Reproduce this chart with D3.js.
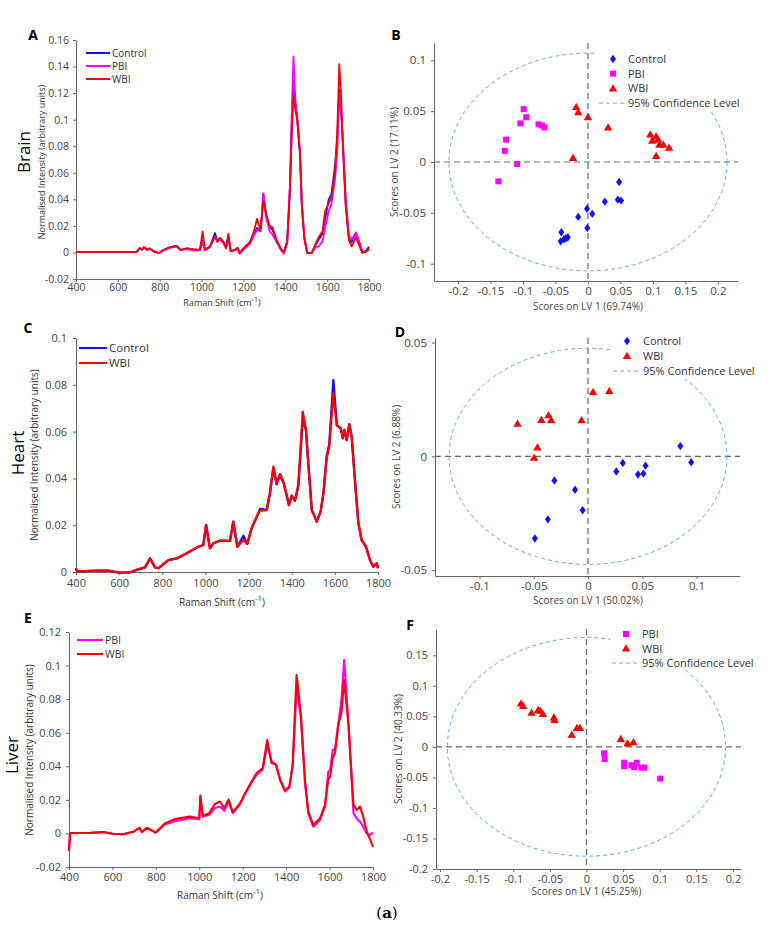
<!DOCTYPE html>
<html>
<head>
<meta charset="utf-8">
<script src="https://cdn.jsdelivr.net/npm/d3@7"></script>
<style>
  body { margin: 0; background: #fff; }
  svg { display: block; }
  text { font-family: "Open Sans", "Noto Sans", sans-serif; }
</style>
</head>
<body>
<div id="fig"></div>
<script>
// ---------- spectra (Raman shift grid + normalised intensity per group) ----------
const ramanTicks = [400, 600, 800, 1000, 1200, 1400, 1600, 1800];

const brainShift = [
  400, 500, 600, 690, 705, 715, 725, 740, 752, 770,
  797, 820, 850, 880, 900, 930, 960, 992, 1005, 1016,
  1040, 1064, 1075, 1088, 1104, 1117, 1128, 1139, 1160, 1172,
  1182, 1206, 1231, 1250, 1265, 1281, 1287, 1295, 1309, 1325,
  1339, 1358, 1382, 1393, 1409, 1422, 1430, 1439, 1448, 1457,
  1470, 1479, 1491, 1505, 1526, 1546, 1559, 1578, 1590, 1607,
  1620, 1638, 1648, 1658, 1666, 1674, 1689, 1704, 1717, 1738,
  1754, 1768, 1784, 1800];
const brainControl = [
  0.0003, 0.0005, 0.0005, 0.0005, 0.003, 0.002, 0.0035, 0.002, 0.003, 0.001,
  -0.0005, 0.002, 0.004, 0.005, 0.002, 0.003, 0.002, 0.002, 0.009, 0.002,
  0.0045, 0.0146, 0.0085, 0.0108, 0.008, 0.0035, 0.0125, 0.001, 0.002, 0.0033,
  -0.0005, 0.0038, 0.007, 0.0135, 0.0184, 0.016, 0.024, 0.044, 0.028, 0.019,
  0.017, 0.009, 0.002, -0.0003, 0.008, 0.045, 0.09, 0.1288, 0.112, 0.1,
  0.075, 0.036, 0.011, -0.0005, -0.0005, 0.006, 0.0095, 0.014, 0.0246, 0.0397,
  0.0435, 0.066, 0.085, 0.1225, 0.11, 0.0861, 0.036, 0.0108, 0.0078, 0.0146,
  0.007, 0.0008, 0.0008, 0.0042];
const brainPBI = [
  0.0003, 0.0005, 0.0005, 0.0005, 0.0035, 0.002, 0.004, 0.002, 0.003, 0.001,
  -0.0005, 0.002, 0.0035, 0.0045, 0.0015, 0.0025, 0.0015, 0.0015, 0.008, 0.0015,
  0.004, 0.012, 0.008, 0.01, 0.007, 0.003, 0.012, 0.001, 0.0015, 0.003,
  -0.001, 0.003, 0.0065, 0.013, 0.017, 0.016, 0.026, 0.0447, 0.026, 0.016,
  0.0133, 0.008, 0.001, -0.001, 0.007, 0.05, 0.1, 0.1477, 0.115, 0.103,
  0.077, 0.038, 0.012, 0.0, -0.0005, 0.004, 0.0045, 0.0083, 0.0184, 0.031,
  0.036, 0.056, 0.075, 0.12, 0.108, 0.088, 0.04, 0.013, 0.0095, 0.0151,
  0.008, 0.0, 0.0005, 0.002];
const brainWBI = [
  0.0003, 0.0005, 0.0005, 0.0005, 0.003, 0.0025, 0.004, 0.002, 0.003, 0.001,
  -0.0005, 0.002, 0.004, 0.005, 0.002, 0.003, 0.0025, 0.002, 0.0159, 0.002,
  0.0045, 0.0121, 0.0083, 0.011, 0.008, 0.0035, 0.0139, 0.001, 0.002, 0.0035,
  -0.0005, 0.004, 0.008, 0.0159, 0.0252, 0.0171, 0.026, 0.0392, 0.028, 0.02,
  0.019, 0.0095, 0.002, 0.0, 0.0083, 0.0485, 0.085, 0.1188, 0.108, 0.1,
  0.074, 0.035, 0.01, -0.0005, -0.0005, 0.007, 0.0114, 0.0159, 0.031, 0.037,
  0.041, 0.061, 0.09, 0.1418, 0.12, 0.084, 0.034, 0.009, 0.0046, 0.0114,
  0.005, -0.0003, 0.0005, 0.003];

const heartShift = [
  400, 405, 500, 550, 600, 650, 681, 720, 743, 766,
  782, 828, 867, 913, 967, 990, 1003, 1021, 1037, 1068,
  1114, 1129, 1148, 1176, 1194, 1214, 1238, 1253, 1284, 1299,
  1315, 1330, 1346, 1364, 1387, 1400, 1415, 1431, 1451, 1466,
  1477, 1493, 1503, 1516, 1534, 1547, 1562, 1574, 1593, 1609,
  1627, 1637, 1644, 1655, 1667, 1678, 1693, 1709, 1724, 1744,
  1763, 1778, 1794, 1800];
const heartControl = [
  0.0016, 0.0003, 0.0006, 0.0006, -0.0003, -0.0002, 0.0009, 0.002, 0.0058, 0.002,
  0.0016, 0.0051, 0.0058, 0.008, 0.0108, 0.0115, 0.0201, 0.0101, 0.0123, 0.0134,
  0.0133, 0.0215, 0.0108, 0.0155, 0.012, 0.0187, 0.0236, 0.027, 0.0265, 0.0336,
  0.0445, 0.0375, 0.0415, 0.0375, 0.0286, 0.0326, 0.0305, 0.0372, 0.065, 0.0607,
  0.0464, 0.0265, 0.0244, 0.0215, 0.0258, 0.0336, 0.0496, 0.0545, 0.082, 0.0628,
  0.0614, 0.0571, 0.0607, 0.0564, 0.0632, 0.0578, 0.0393, 0.0208, 0.0137, 0.011,
  0.005, 0.0023, 0.0037, 0.0016];
const heartWBI = [
  0.0016, 0.0003, 0.0006, 0.0006, -0.0003, -0.0002, 0.0009, 0.002, 0.0058, 0.002,
  0.0016, 0.0051, 0.0058, 0.008, 0.0108, 0.0115, 0.0201, 0.0101, 0.0123, 0.0134,
  0.0133, 0.0215, 0.0108, 0.0137, 0.012, 0.0187, 0.0236, 0.0262, 0.0265, 0.0336,
  0.045, 0.0379, 0.0419, 0.0379, 0.0286, 0.0326, 0.0305, 0.0372, 0.0685, 0.0607,
  0.0464, 0.0265, 0.0244, 0.0215, 0.0258, 0.0336, 0.0486, 0.0536, 0.0764, 0.0628,
  0.0614, 0.0571, 0.0607, 0.0564, 0.0632, 0.0578, 0.0393, 0.0208, 0.0137, 0.0108,
  0.0051, 0.0023, 0.0037, 0.0016];

const liverShift = [
  400, 405, 500, 558, 600, 650, 700, 724, 736, 758,
  800, 842, 888, 957, 1000, 1005, 1016, 1026, 1045, 1072,
  1095, 1115, 1135, 1154, 1170, 1188, 1211, 1237, 1264, 1292,
  1313, 1333, 1353, 1372, 1395, 1415, 1430, 1448, 1468, 1487,
  1502, 1525, 1556, 1579, 1594, 1603, 1614, 1625, 1640, 1655,
  1667, 1687, 1710, 1725, 1740, 1755, 1771, 1785, 1800];
const liverPBI = [
  -0.0095, 0.0003, 0.0004, 0.0008, -0.0002, -0.0005, 0.0012, 0.0032, 0.0008, 0.0032,
  0.0005, 0.0055, 0.0072, 0.009, 0.0085, 0.0215, 0.0098, 0.0105, 0.011, 0.0152,
  0.016, 0.0135, 0.019, 0.0122, 0.0145, 0.0175, 0.0235, 0.0295, 0.035, 0.038,
  0.053, 0.043, 0.041, 0.032, 0.025, 0.0275, 0.04, 0.0865, 0.069, 0.03,
  0.012, 0.004, 0.008, 0.016, 0.0368, 0.038, 0.0497, 0.05, 0.065, 0.08,
  0.1033, 0.066, 0.012, 0.009, 0.007, 0.004, 0.0, -0.001, 0.0005];
const liverWBI = [
  -0.0105, 0.0003, 0.0004, 0.0008, -0.0002, -0.0005, 0.0012, 0.0034, 0.0008, 0.0034,
  0.0005, 0.006, 0.0086, 0.01, 0.009, 0.0225, 0.0105, 0.011, 0.012, 0.0175,
  0.019, 0.015, 0.0203, 0.0126, 0.015, 0.018, 0.024, 0.03, 0.036, 0.039,
  0.0556, 0.042, 0.041, 0.032, 0.0255, 0.028, 0.041, 0.0944, 0.0705, 0.031,
  0.013, 0.005, 0.009, 0.017, 0.032, 0.034, 0.0447, 0.048, 0.0646, 0.072,
  0.0914, 0.0646, 0.017, 0.014, 0.016, 0.01, 0.001, -0.003, -0.008];

// ---------- PLS-DA scores [LV1, LV2] ----------
const brainScoresControl = [[0.048, -0.0196], [0.026, -0.039], [0.046, -0.037], [0.051, -0.038],
  [-0.0015, -0.046], [0.0066, -0.051], [-0.015, -0.054], [-0.001, -0.065], [-0.041, -0.069],
  [-0.042, -0.078], [-0.037, -0.076], [-0.034, -0.075], [-0.031, -0.074]];
const brainScoresPBI = [[-0.099, 0.052], [-0.095, 0.044], [-0.104, 0.038], [-0.076, 0.037],
  [-0.071, 0.036], [-0.067, 0.034], [-0.126, 0.022], [-0.128, 0.011], [-0.109, -0.002], [-0.138, -0.019]];
const brainScoresWBI = [[-0.018, 0.054], [-0.015, 0.049], [0, 0.044], [0.031, 0.034], [-0.023, 0.004],
  [0.096, 0.027], [0.105, 0.025], [0.099, 0.021], [0.108, 0.022], [0.110, 0.017], [0.116, 0.017],
  [0.125, 0.014], [0.105, 0.006]];

const heartScoresControl = [[0.085, 0.0045], [0.095, -0.0026], [0.032, -0.0029], [0.026, -0.0067],
  [0.053, -0.0041], [0.046, -0.008], [0.051, -0.0076], [-0.031, -0.0106], [-0.012, -0.0147],
  [-0.005, -0.0237], [-0.037, -0.0277], [-0.049, -0.0361]];
const heartScoresWBI = [[0.0046, 0.0283], [0.0196, 0.0287], [-0.065, 0.0143], [-0.043, 0.016],
  [-0.0365, 0.018], [-0.034, 0.0159], [-0.006, 0.0159], [-0.0466, 0.0039], [-0.0497, -0.0006]];

const liverScoresPBI = [[0.024, -0.0105], [0.025, -0.0198], [0.0514, -0.026], [0.0514, -0.032],
  [0.0614, -0.030], [0.065, -0.033], [0.0687, -0.026], [0.075, -0.034], [0.0787, -0.034], [0.1006, -0.052]];
const liverScoresWBI = [[-0.0895, 0.071], [-0.0864, 0.067], [-0.075, 0.056], [-0.066, 0.0605],
  [-0.063, 0.059], [-0.0595, 0.054], [-0.0445, 0.048], [-0.0436, 0.044], [-0.020, 0.020],
  [-0.0132, 0.031], [-0.009, 0.031], [0.047, 0.013], [0.056, 0.0055], [0.064, 0.0077]];

// 95% confidence ellipse half-axes [LV1, LV2]
const brainLimit = [0.214, 0.107];
const heartLimit = [0.128, 0.0475];
const liverLimit = [0.19, 0.179];

const colors = { Control: "#1010ff", PBI: "#ff00ff", WBI: "#ff0000" };
const fmt = (d) => String(+d.toFixed(3));

const svg = d3.select("#fig").append("svg").attr("width", 772).attr("height", 942);

const styleAxis = (g, size) => {
  g.select(".domain").attr("stroke", "#666");
  g.selectAll(".tick line").attr("stroke", "#666");
  g.selectAll(".tick text").attr("fill", "#444").style("font-size", size + "px");
};

const drawSpectrum = (o) => {
  const g = svg.append("g");
  const x = d3.scaleLinear().domain([400, 1800]).range([o.left, o.right]);
  const y = d3.scaleLinear().domain(o.yDomain).range([o.bottom, o.top]);

  g.append("g")
    .attr("transform", `translate(0,${o.bottom})`)
    .call(d3.axisBottom(x).tickValues(ramanTicks).tickSize(3).tickSizeOuter(0).tickPadding(o.xPad).tickFormat(fmt))
    .call(styleAxis, o.tickFont);
  g.append("g")
    .attr("transform", `translate(${o.left},0)`)
    .call(d3.axisLeft(y).tickValues(o.yTicks).tickSize(3).tickSizeOuter(0).tickPadding(o.yPad).tickFormat(fmt))
    .call(styleAxis, o.tickFont);

  const line = d3.line().x((d, i) => x(o.shift[i])).y((d) => y(d));
  o.series.forEach((s) => {
    g.append("path")
      .datum(s.values)
      .attr("d", line)
      .attr("fill", "none")
      .attr("stroke", colors[s.name])
      .attr("stroke-width", o.lineWidth)
      .attr("stroke-linejoin", "round");
  });

  // legend
  o.series.forEach((s, i) => {
    const ly = o.legend.y + i * o.legend.step;
    g.append("line")
      .attr("x1", o.legend.x).attr("x2", o.legend.x + o.legend.len)
      .attr("y1", ly).attr("y2", ly)
      .attr("stroke", colors[s.name]).attr("stroke-width", 2);
    g.append("text")
      .attr("x", o.legend.x + o.legend.len + 2).attr("y", ly + 4)
      .attr("fill", "#333").style("font-size", o.legend.font + "px")
      .text(s.name);
  });

  g.append("text")
    .attr("transform", `translate(${o.yTitleX},${o.yTitleY}) rotate(-90)`)
    .attr("text-anchor", "middle").attr("fill", "#333")
    .style("font-size", o.titleFont + "px")
    .text("Normalised Intensity (arbitrary units)");

  const xt = g.append("text")
    .attr("x", o.xTitleX).attr("y", o.xTitleY)
    .attr("text-anchor", "middle").attr("fill", "#333")
    .style("font-size", o.titleFont + "px");
  xt.append("tspan").text("Raman Shift (cm");
  xt.append("tspan").attr("baseline-shift", "super").style("font-size", (o.titleFont - 2) + "px").text("-1");
  xt.append("tspan").text(")");

  g.append("text")
    .attr("transform", `translate(${o.organX},${o.organY}) rotate(-90)`)
    .attr("text-anchor", "middle").attr("fill", "#000")
    .style("font-size", "17px")
    .text(o.organ);

  g.append("text")
    .attr("x", o.letterX).attr("y", o.letterY)
    .attr("text-anchor", "middle").attr("fill", "#000")
    .style("font-size", "14px").style("font-weight", "bold")
    .text(o.letter);
};

const markerPath = {
  Control: "M0,-4.2L3,0L0,4.2L-3,0Z",
  PBI: "M-3,-3L3,-3L3,3L-3,3Z",
  WBI: "M0,-4.2L4.2,3L-4.2,3Z"
};

const drawScores = (o) => {
  const g = svg.append("g");
  const x = d3.scaleLinear().domain(o.xDomain).range([o.left, o.right]);
  const y = d3.scaleLinear().domain(o.yDomain).range([o.bottom, o.top]);

  g.append("g")
    .attr("transform", `translate(0,${o.bottom})`)
    .call(d3.axisBottom(x).tickValues(o.xTicks).tickSize(3).tickSizeOuter(0).tickPadding(3).tickFormat(fmt))
    .call(styleAxis, o.tickFont);
  g.append("g")
    .attr("transform", `translate(${o.left},0)`)
    .call(d3.axisLeft(y).tickValues(o.yTicks).tickSize(3).tickSizeOuter(0).tickPadding(5).tickFormat(fmt))
    .call(styleAxis, o.tickFont);

  // zero lines
  g.append("line")
    .attr("x1", o.left).attr("x2", o.right).attr("y1", y(0)).attr("y2", y(0))
    .attr("stroke", "#666").attr("stroke-width", 1.2).attr("stroke-dasharray", "6,4");
  g.append("line")
    .attr("x1", x(0)).attr("x2", x(0)).attr("y1", o.top).attr("y2", o.bottom)
    .attr("stroke", "#666").attr("stroke-width", 1.2).attr("stroke-dasharray", "6,4");

  // confidence ellipse
  g.append("ellipse")
    .attr("cx", x(0)).attr("cy", y(0))
    .attr("rx", x(o.limit[0]) - x(0)).attr("ry", y(0) - y(o.limit[1]))
    .attr("fill", "none").attr("stroke", "#6aaee0").attr("stroke-width", 1)
    .attr("stroke-dasharray", "4,3");

  o.groups.forEach((grp) => {
    g.selectAll(null)
      .data(grp.points)
      .enter()
      .append("path")
      .attr("transform", (d) => `translate(${x(d[0])},${y(d[1])})`)
      .attr("d", markerPath[grp.name])
      .attr("fill", colors[grp.name]);
  });

  // legend (white box hides the ellipse behind it)
  const L = o.legend;
  g.append("rect")
    .attr("x", L.boxX).attr("y", L.boxY).attr("width", L.boxW).attr("height", L.boxH)
    .attr("fill", "#fff");
  const rows = o.groups.map((d) => d.name).concat(["95% Confidence Level"]);
  rows.forEach((name, i) => {
    const ly = L.y + i * L.step;
    if (markerPath[name]) {
      g.append("path")
        .attr("transform", `translate(${L.markX},${ly})`)
        .attr("d", markerPath[name]).attr("fill", colors[name]);
    } else {
      g.append("line")
        .attr("x1", L.markX - 14).attr("x2", L.textX - 2).attr("y1", ly).attr("y2", ly)
        .attr("stroke", "#6aaee0").attr("stroke-width", 1).attr("stroke-dasharray", "4,3");
    }
    g.append("text")
      .attr("x", L.textX).attr("y", ly + 4)
      .attr("fill", "#333").style("font-size", L.font + "px")
      .text(name);
  });

  g.append("text")
    .attr("transform", `translate(${o.yTitleX},${(o.top + o.bottom) / 2}) rotate(-90)`)
    .attr("text-anchor", "middle").attr("fill", "#444")
    .style("font-size", o.titleFont + "px")
    .text(o.yTitle);
  g.append("text")
    .attr("x", x(0)).attr("y", o.xTitleY)
    .attr("text-anchor", "middle").attr("fill", "#444")
    .style("font-size", o.titleFont + "px")
    .text(o.xTitle);

  g.append("text")
    .attr("x", o.letterX).attr("y", o.letterY)
    .attr("text-anchor", "middle").attr("fill", "#000")
    .style("font-size", "14px").style("font-weight", "bold")
    .text(o.letter);
};

// ---------- A: brain spectra ----------
drawSpectrum({
  left: 76, right: 369, top: 40, bottom: 279,
  yDomain: [-0.02, 0.16], yTicks: [-0.02, 0, 0.02, 0.04, 0.06, 0.08, 0.1, 0.12, 0.14, 0.16],
  shift: brainShift, lineWidth: 1.8, tickFont: 10.5, xPad: 2, yPad: 4,
  series: [{ name: "Control", values: brainControl }, { name: "PBI", values: brainPBI }, { name: "WBI", values: brainWBI }],
  legend: { x: 86, y: 53, step: 13, len: 24, font: 10 },
  yTitleX: 45, yTitleY: 162, xTitleX: 222, xTitleY: 306, titleFont: 9,
  organ: "Brain", organX: 30, organY: 152, letter: "A", letterX: 33, letterY: 40
});

// ---------- B: brain scores ----------
drawScores({
  left: 434, right: 738, top: 43, bottom: 281,
  xDomain: [-0.237, 0.231], yDomain: [-0.117, 0.117],
  xTicks: [-0.2, -0.15, -0.1, -0.05, 0, 0.05, 0.1, 0.15, 0.2], yTicks: [-0.1, -0.05, 0, 0.05, 0.1],
  limit: brainLimit, tickFont: 11.5, titleFont: 10,
  groups: [{ name: "Control", points: brainScoresControl }, { name: "PBI", points: brainScoresPBI }, { name: "WBI", points: brainScoresWBI }],
  legend: { boxX: 596, boxY: 44, boxW: 146, boxH: 66, markX: 613, textX: 628, y: 59, step: 14.7, font: 11 },
  yTitleX: 398, xTitleY: 310, yTitle: "Scores on LV 2 (17.11%)", xTitle: "Scores on LV 1 (69.74%)",
  letter: "B", letterX: 396, letterY: 40
});

// ---------- C: heart spectra ----------
drawSpectrum({
  left: 76, right: 378, top: 338, bottom: 572,
  yDomain: [0, 0.1], yTicks: [0, 0.02, 0.04, 0.06, 0.08, 0.1],
  shift: heartShift, lineWidth: 2.3, tickFont: 11, xPad: 4, yPad: 6,
  series: [{ name: "Control", values: heartControl }, { name: "WBI", values: heartWBI }],
  legend: { x: 79, y: 348, step: 15, len: 28, font: 11.5 },
  yTitleX: 38, yTitleY: 455, xTitleX: 222, xTitleY: 606, titleFont: 10,
  organ: "Heart", organX: 24, organY: 453, letter: "C", letterX: 28, letterY: 333
});

// ---------- D: heart scores ----------
drawScores({
  left: 435, right: 740, top: 338, bottom: 576,
  xDomain: [-0.141, 0.140], yDomain: [-0.0526, 0.052],
  xTicks: [-0.1, -0.05, 0, 0.05, 0.1], yTicks: [-0.05, 0, 0.05],
  limit: heartLimit, tickFont: 11.5, titleFont: 10,
  groups: [{ name: "Control", points: heartScoresControl }, { name: "WBI", points: heartScoresWBI }],
  legend: { boxX: 611, boxY: 331, boxW: 135, boxH: 48, markX: 627, textX: 643, y: 341, step: 15, font: 11 },
  yTitleX: 400, xTitleY: 604, yTitle: "Scores on LV 2 (6.88%)", xTitle: "Scores on LV 1 (50.02%)",
  letter: "D", letterX: 400, letterY: 337
});

// ---------- E: liver spectra ----------
drawSpectrum({
  left: 69, right: 373, top: 632, bottom: 867,
  yDomain: [-0.02, 0.12], yTicks: [-0.02, 0, 0.02, 0.04, 0.06, 0.08, 0.1, 0.12],
  shift: liverShift, lineWidth: 2.1, tickFont: 11, xPad: 3, yPad: 5,
  series: [{ name: "PBI", values: liverPBI }, { name: "WBI", values: liverWBI }],
  legend: { x: 77, y: 640, step: 14, len: 26, font: 10.5 },
  yTitleX: 33, yTitleY: 750, xTitleX: 220, xTitleY: 899, titleFont: 10,
  organ: "Liver", organX: 18, organY: 755, letter: "E", letterX: 28, letterY: 623
});

// ---------- F: liver scores ----------
drawScores({
  left: 436, right: 741, top: 629, bottom: 869,
  xDomain: [-0.2055, 0.211], yDomain: [-0.2, 0.193],
  xTicks: [-0.2, -0.15, -0.1, -0.05, 0, 0.05, 0.1, 0.15, 0.2], yTicks: [-0.2, -0.15, -0.1, -0.05, 0, 0.05, 0.1, 0.15],
  limit: liverLimit, tickFont: 11, titleFont: 10,
  groups: [{ name: "PBI", points: liverScoresPBI }, { name: "WBI", points: liverScoresWBI }],
  legend: { boxX: 611, boxY: 624, boxW: 135, boxH: 46, markX: 626, textX: 642, y: 634, step: 14.5, font: 11 },
  yTitleX: 402, xTitleY: 895, yTitle: "Scores on LV 2 (40.33%)", xTitle: "Scores on LV 1 (45.25%)",
  letter: "F", letterX: 410, letterY: 630
});

// figure caption mark
const cap = svg.append("text")
  .attr("x", 387).attr("y", 918).attr("text-anchor", "middle")
  .style("font-family", "\"DejaVu Serif\", \"Liberation Serif\", serif").style("font-size", "15px")
  .attr("fill", "#000");
cap.append("tspan").text("(");
cap.append("tspan").style("font-weight", "bold").text("a");
cap.append("tspan").text(")");
</script>
</body>
</html>
